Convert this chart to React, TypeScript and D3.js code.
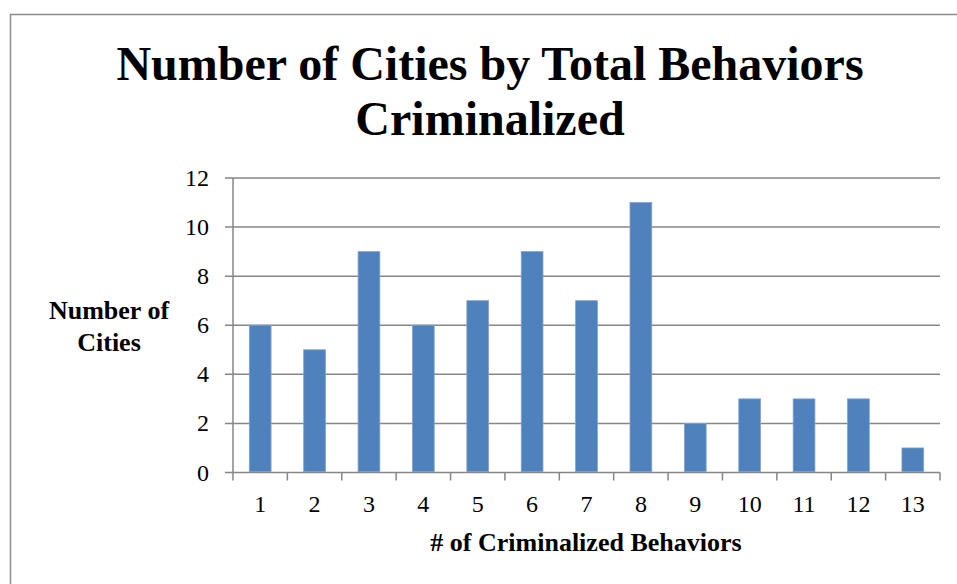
import { useEffect, useRef } from "react";
import * as d3 from "d3";

const categories = ["1", "2", "3", "4", "5", "6", "7", "8", "9", "10", "11", "12", "13"];
const cityCounts = [6, 5, 9, 6, 7, 9, 7, 11, 2, 3, 3, 3, 1];
const yTicks = [0, 2, 4, 6, 8, 10, 12];

const titleLines = ["Number of Cities by Total Behaviors", "Criminalized"];
const yTitleLines = ["Number of", "Cities"];
const xTitle = "# of Criminalized Behaviors";

const W = 957;
const H = 584;

export default function App() {
	const svgRef = useRef<SVGSVGElement>(null);

	useEffect(() => {
		if (!svgRef.current) return;
		const svg = d3.select(svgRef.current);
		svg.selectAll("*").remove();

		const font = "'Liberation Serif', 'Times New Roman', serif";
		const grey = "#868686";
		const left = 233;
		const right = 940;
		const top = 178;
		const bottom = 472.5;

		// outer frame (right and bottom edges fall outside the view)
		svg.append("rect")
			.attr("x", 10.5)
			.attr("y", 14.5)
			.attr("width", 1000)
			.attr("height", 1000)
			.attr("fill", "#fff")
			.attr("stroke", "#8c8c8c")
			.attr("stroke-width", 1.5);

		const x = d3.scaleBand().domain(categories).range([left, right]);
		const y = d3.scaleLinear().domain([0, 12]).range([bottom, top]);

		// gridlines + y ticks
		svg.append("g")
			.selectAll("line")
			.data(yTicks)
			.join("line")
			.attr("x1", left - 8)
			.attr("x2", right)
			.attr("y1", (d) => y(d))
			.attr("y2", (d) => y(d))
			.attr("stroke", grey)
			.attr("stroke-width", 1.5);

		svg.append("g")
			.selectAll("text")
			.data(yTicks)
			.join("text")
			.attr("x", left - 24)
			.attr("y", (d) => y(d) + 8)
			.attr("text-anchor", "end")
			.attr("font-family", font)
			.attr("font-size", 24)
			.text((d) => d);

		// y axis line
		svg.append("line")
			.attr("x1", left)
			.attr("x2", left)
			.attr("y1", top)
			.attr("y2", bottom)
			.attr("stroke", grey)
			.attr("stroke-width", 1.5);

		// x tick marks at category boundaries
		const bounds = categories.map((c) => x(c) ?? 0).concat([right]);
		svg.append("g")
			.selectAll("line")
			.data(bounds)
			.join("line")
			.attr("x1", (d) => d)
			.attr("x2", (d) => d)
			.attr("y1", bottom)
			.attr("y2", bottom + 8)
			.attr("stroke", grey)
			.attr("stroke-width", 1.5);

		// bars
		const bw = x.bandwidth() * 0.4;
		svg.append("g")
			.selectAll("rect")
			.data(cityCounts)
			.join("rect")
			.attr("x", (_, i) => (x(categories[i]) ?? 0) + (x.bandwidth() - bw) / 2)
			.attr("y", (d) => y(d))
			.attr("width", bw)
			.attr("height", (d) => bottom - y(d) - 0.75)
			.attr("fill", "#4F81BD")
			.attr("stroke", "#7fa3d1")
			.attr("stroke-width", 0.8);

		// x tick labels
		svg.append("g")
			.selectAll("text")
			.data(categories)
			.join("text")
			.attr("x", (d) => (x(d) ?? 0) + x.bandwidth() / 2)
			.attr("y", 512)
			.attr("text-anchor", "middle")
			.attr("font-family", font)
			.attr("font-size", 24)
			.text((d) => d);

		// titles
		svg.append("g")
			.selectAll("text")
			.data(titleLines)
			.join("text")
			.attr("x", 490)
			.attr("y", (_, i) => 80 + i * 55)
			.attr("text-anchor", "middle")
			.attr("font-family", font)
			.attr("font-weight", "bold")
			.attr("font-size", 48)
			.text((d) => d);

		svg.append("g")
			.selectAll("text")
			.data(yTitleLines)
			.join("text")
			.attr("x", 109)
			.attr("y", (_, i) => 319 + i * 32)
			.attr("text-anchor", "middle")
			.attr("font-family", font)
			.attr("font-weight", "bold")
			.attr("font-size", 26)
			.text((d) => d);

		svg.append("text")
			.attr("x", 586)
			.attr("y", 551)
			.attr("text-anchor", "middle")
			.attr("font-family", font)
			.attr("font-weight", "bold")
			.attr("font-size", 26)
			.text(xTitle);
	}, []);

	return (
		<svg
			ref={svgRef}
			width={W}
			height={H}
			style={{ position: "absolute", left: 0, top: 0 }}
		/>
	);
}
